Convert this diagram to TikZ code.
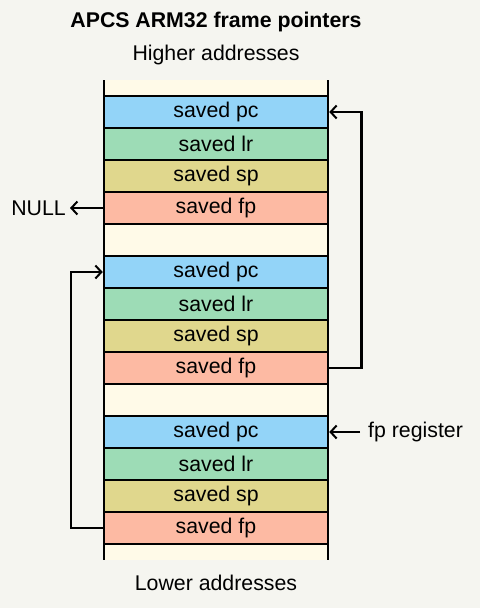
\documentclass[tikz,border=0pt]{standalone}
\usepackage{fontspec}
\setmainfont{Liberation Sans}
\usetikzlibrary{arrows.meta}
\definecolor{bgc}{HTML}{F5F5F0}
\definecolor{creamc}{HTML}{FFFAE8}
\definecolor{pcc}{HTML}{93D4F8}
\definecolor{lrc}{HTML}{9DDCB6}
\definecolor{spc}{HTML}{E0D78D}
\definecolor{fpc}{HTML}{FDBAA3}
\newcommand{\myfs}{\fontsize{21.3pt}{25pt}\selectfont}
\tikzset{
  cell/.style={draw=black, line width=2.5pt, minimum width=224pt, minimum height=32pt, inner sep=0pt, font=\myfs},
  lbl/.style={font=\myfs, inner sep=0pt},
  arr/.style={draw=black, line width=2.5pt, -{Straight Barb[length=6pt,width=13pt,line width=2pt]}},
}
\begin{document}
\begin{tikzpicture}[x=1pt,y=-1pt]
\useasboundingbox[fill=bgc] (0,0) rectangle (480,608);
\fill[creamc] (104,80) rectangle (328,560);
\foreach \k/\y in {1/96,2/256,3/416}{
  \node[cell, fill=pcc] (pc\k) at (216,\y+16) {saved pc};
  \node[cell, fill=lrc] (lr\k) at (216,\y+48) {saved lr};
  \node[cell, fill=spc] (sp\k) at (216,\y+80) {saved sp};
  \node[cell, fill=fpc] (fp\k) at (216,\y+112) {saved fp};
}
\draw[line width=2.5pt] (104,80) -- (104,560) (328,80) -- (328,560);
\node[lbl, font=\myfs\bfseries] (title) at (216,22) {APCS ARM32 frame pointers};
\node[lbl] (high) at (216,55) {Higher addresses};
\node[lbl] (low) at (216,583) {Lower addresses};
\node[lbl, anchor=east, inner xsep=4pt] (null) at (70,208) {NULL};
\node[lbl, anchor=west, inner xsep=8pt] (fpreg) at (360,432) {fp register};
\draw[arr] (fp1.west) -- (null.east);
\draw[arr] (fpreg.west) -- (pc3.east);
\draw[arr] (fp2.east) -- ++(32,0) |- (pc1.east);
\draw[arr] (fp3.west) -- ++(-32,0) |- (pc2.west);
\end{tikzpicture}
\end{document}
